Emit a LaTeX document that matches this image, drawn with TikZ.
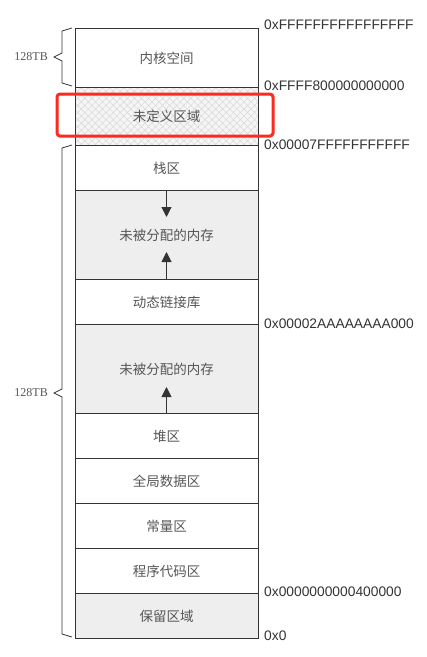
\documentclass[tikz,border=0pt]{standalone}
\usepackage{fontspec}
\setmainfont{Liberation Serif}
\newfontfamily\cjk{Noto Sans CJK SC}
\newfontfamily\hexfont{Liberation Sans}
\usetikzlibrary{arrows.meta,patterns.meta}
\definecolor{boxline}{HTML}{333333}
\definecolor{txt}{HTML}{555555}
\definecolor{hex}{HTML}{333333}
\definecolor{freefill}{HTML}{EEEEEE}
\definecolor{hatchfill}{HTML}{F5F5F5}
\definecolor{hatchline}{HTML}{D8D8D8}
\definecolor{redbox}{HTML}{FF2A1F}
\tikzset{
  region/.style={draw=boxline, line width=1pt, minimum width=183pt, inner sep=0pt,
    text=txt, font=\cjk\fontsize{13.5pt}{14pt}\selectfont, anchor=north},
  freemem/.style={region, fill=freefill},
  addr/.style={anchor=west, text=hex, font=\hexfont\fontsize{13.8pt}{14pt}\selectfont, inner sep=0pt},
  sizelbl/.style={anchor=east, text=txt, font=\fontsize{12pt}{13pt}\selectfont, inner sep=0pt},
  growarrow/.style={draw=boxline, line width=1pt, -{Triangle[length=10pt,width=10pt]}},
  bracepath/.style={draw=boxline, line width=0.8pt, line join=miter},
  highlight/.style={draw=redbox, line width=3pt, rounded corners=3pt}
}
\begin{document}
\begin{tikzpicture}[x=1pt,y=-1pt]
\useasboundingbox (0,0) rectangle (427,657);
% regions
\node[region, minimum height=59pt] (kernel) at (166.5,28) {内核空间};
\fill[hatchfill] (75,87) rectangle (258,145);
\fill[pattern={Hatch[angle=45,distance=5pt,line width=0.5pt]}, pattern color=hatchline] (75,87) rectangle (258,145);
\node[region, minimum height=58pt] (undef) at (166.5,87) {未定义区域};
\node[region, minimum height=45pt] (stack) at (166.5,145) {栈区};
\node[freemem, minimum height=89pt] (free1) at (166.5,190) {未被分配的内存};
\node[region, minimum height=45pt] (dll) at (166.5,279) {动态链接库};
\node[freemem, minimum height=89pt] (free2) at (166.5,324) {未被分配的内存};
\node[region, minimum height=45pt] (heap) at (166.5,413) {堆区};
\node[region, minimum height=45pt] (global) at (166.5,458) {全局数据区};
\node[region, minimum height=45pt] (const) at (166.5,503) {常量区};
\node[region, minimum height=45pt] (code) at (166.5,548) {程序代码区};
\node[freemem, minimum height=45pt] (reserved) at (166.5,593) {保留区域};
% growth arrows
\coordinate (t1) at (166.5,217);
\coordinate (t2) at (166.5,252);
\coordinate (t3) at (166.5,387);
\draw[growarrow] (free1.north) -- (t1);
\draw[growarrow] (free1.south) -- (t2);
\draw[growarrow] (free2.south) -- (t3);
% addresses
\node[addr] (a1) at (264,25) {0xFFFFFFFFFFFFFFFF};
\node[addr] (a2) at (264,86) {0xFFFF800000000000};
\node[addr] (a3) at (264,145) {0x00007FFFFFFFFFFF};
\node[addr] (a4) at (264,324) {0x00002AAAAAAAA000};
\node[addr] (a5) at (264,592) {0x0000000000400000};
\node[addr] (a6) at (264,636) {0x0};
% braces
\draw[bracepath] (72,28) -- (62,31) -- (62,53) -- (54,57) -- (62,61) -- (62,83) -- (72,86);
\draw[bracepath] (72,145) -- (62,148) -- (62,389) -- (54,393) -- (62,397) -- (62,634) -- (72,637);
\node[sizelbl] (s1) at (48,57) {128TB};
\node[sizelbl] (s2) at (48,393) {128TB};
% highlight
\draw[highlight] (57,94) rectangle (273,136);
\end{tikzpicture}
\end{document}
